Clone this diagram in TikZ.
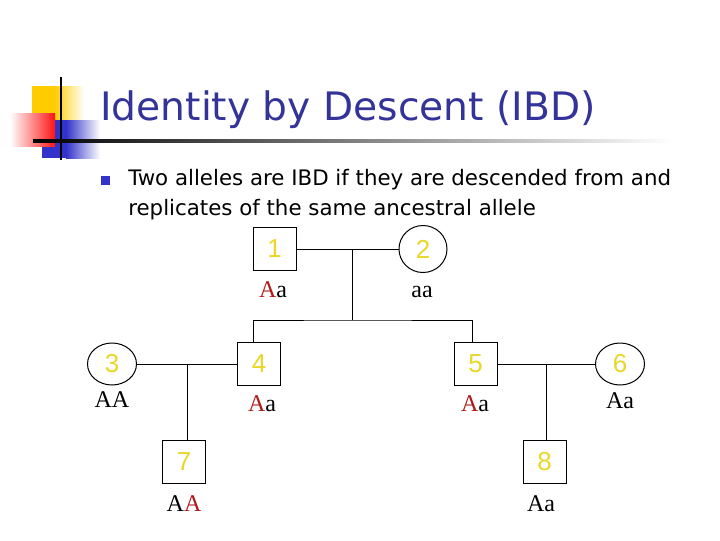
\documentclass[tikz,border=0pt]{standalone}
\usepackage{fontspec}
\setmainfont{Liberation Serif}
\newfontfamily\headfont{DejaVu Sans}
\newfontfamily\numfont{Liberation Sans}
\usetikzlibrary{calc,shapes.geometric}
\definecolor{titleblue}{RGB}{51,51,153}
\definecolor{numyellow}{RGB}{232,214,40}
\definecolor{allelered}{RGB}{175,25,25}
\definecolor{logoyellow}{RGB}{255,204,0}
\definecolor{logored}{RGB}{255,20,20}
\definecolor{logoblue}{RGB}{51,51,204}
\tikzset{
  male/.style={draw, rectangle, minimum size=32.25pt, inner sep=0pt, line width=0.75pt, text=numyellow, font=\numfont\fontsize{19.5}{19.5}\selectfont},
  female/.style={male, ellipse, minimum width=36.75pt, minimum height=31.5pt},
  geno/.style={anchor=base, inner sep=0pt, font=\fontsize{18}{18}\selectfont},
  kin/.style={line width=0.75pt}
}
\newcommand{\rA}{\textcolor{allelered}{A}}

\begin{document}
\begin{tikzpicture}[x=0.75pt, y=-0.75pt]
    \useasboundingbox (0,0) rectangle (720,540);
    % Logo
    \fill[logoyellow] (32,86) rectangle (54,120);
    \shade[left color=logoyellow, right color=white] (54,86) rectangle (84,120);
    \fill[logoblue] (42,120) rectangle (66,158);
    \shade[left color=logoblue, right color=white] (66,120) rectangle (100,158);
    \shade[left color=white, right color=logored] (10,113) rectangle (55,146);
    \draw[line width=1.5pt] (61,77) -- (61,160);
    \shade[left color=black, right color=white] (33,139.5) rectangle (672,142.5);
    % Title and text
    \node[anchor=base west, inner sep=0pt, text=titleblue, font=\headfont\fontsize{29.4}{30}\selectfont] (title) at (100,120) {Identity by Descent (IBD)};
    \node[fill=logoblue, minimum size=6.75pt, inner sep=0pt] (bullet) at (105.5,180.5) {};
    \node[anchor=base west, inner sep=0pt, font=\headfont\fontsize{16}{19}\selectfont] (line1) at (128,185) {Two alleles are IBD if they are descended from and};
    \node[anchor=base west, inner sep=0pt, font=\headfont\fontsize{16}{19}\selectfont] (line2) at (128,215) {replicates of the same ancestral allele};
    % Pedigree
    \node[male] (n1) at (274.5,249) {1};
    \node[female, minimum width=36pt, minimum height=35.25pt] (n2) at (423,249) {2};
    \node[female] (n3) at (112,364) {3};
    \node[male] (n4) at (259,364) {4};
    \node[male] (n5) at (475.5,364) {5};
    \node[female] (n6) at (620,364) {6};
    \node[male] (n7) at (184,462) {7};
    \node[male] (n8) at (544.5,462) {8};
    % Matings and offspring
    \draw[kin] (n1) -- (n2);
    \coordinate (m12) at ($(n1.east)!0.55!(n2.west)$);
    \coordinate (sibs) at ($(m12)+(0,71)$);
    \draw[kin] (m12) -- (sibs);
    \draw[kin] ($(n4.north)+(-6,0)$) |- (sibs) -| ($(n5.north)+(-3,0)$);
    \draw[kin] (n3) -- (n4);
    \coordinate (m34) at ($(n3.east)!0.5!(n4.west)$);
    \draw[kin] (m34) -- (m34 |- n7.north);
    \draw[kin] (n5) -- (n6);
    \coordinate (m56) at ($(n5.east)!0.5!(n6.west)$);
    \draw[kin] (m56) -- (m56 |- n8.north);
    % Genotypes
    \node[geno] (g1) at (273,297) {\rA a};
    \node[geno] (g2) at (422,297) {aa};
    \node[geno] (g3) at (112,407) {AA};
    \node[geno] (g4) at (262,411) {\rA a};
    \node[geno] (g5) at (475,411) {\rA a};
    \node[geno] (g6) at (620,408) {Aa};
    \node[geno] (g7) at (184,511) {A\rA};
    \node[geno] (g8) at (541,511) {Aa};
\end{tikzpicture}
\end{document}
